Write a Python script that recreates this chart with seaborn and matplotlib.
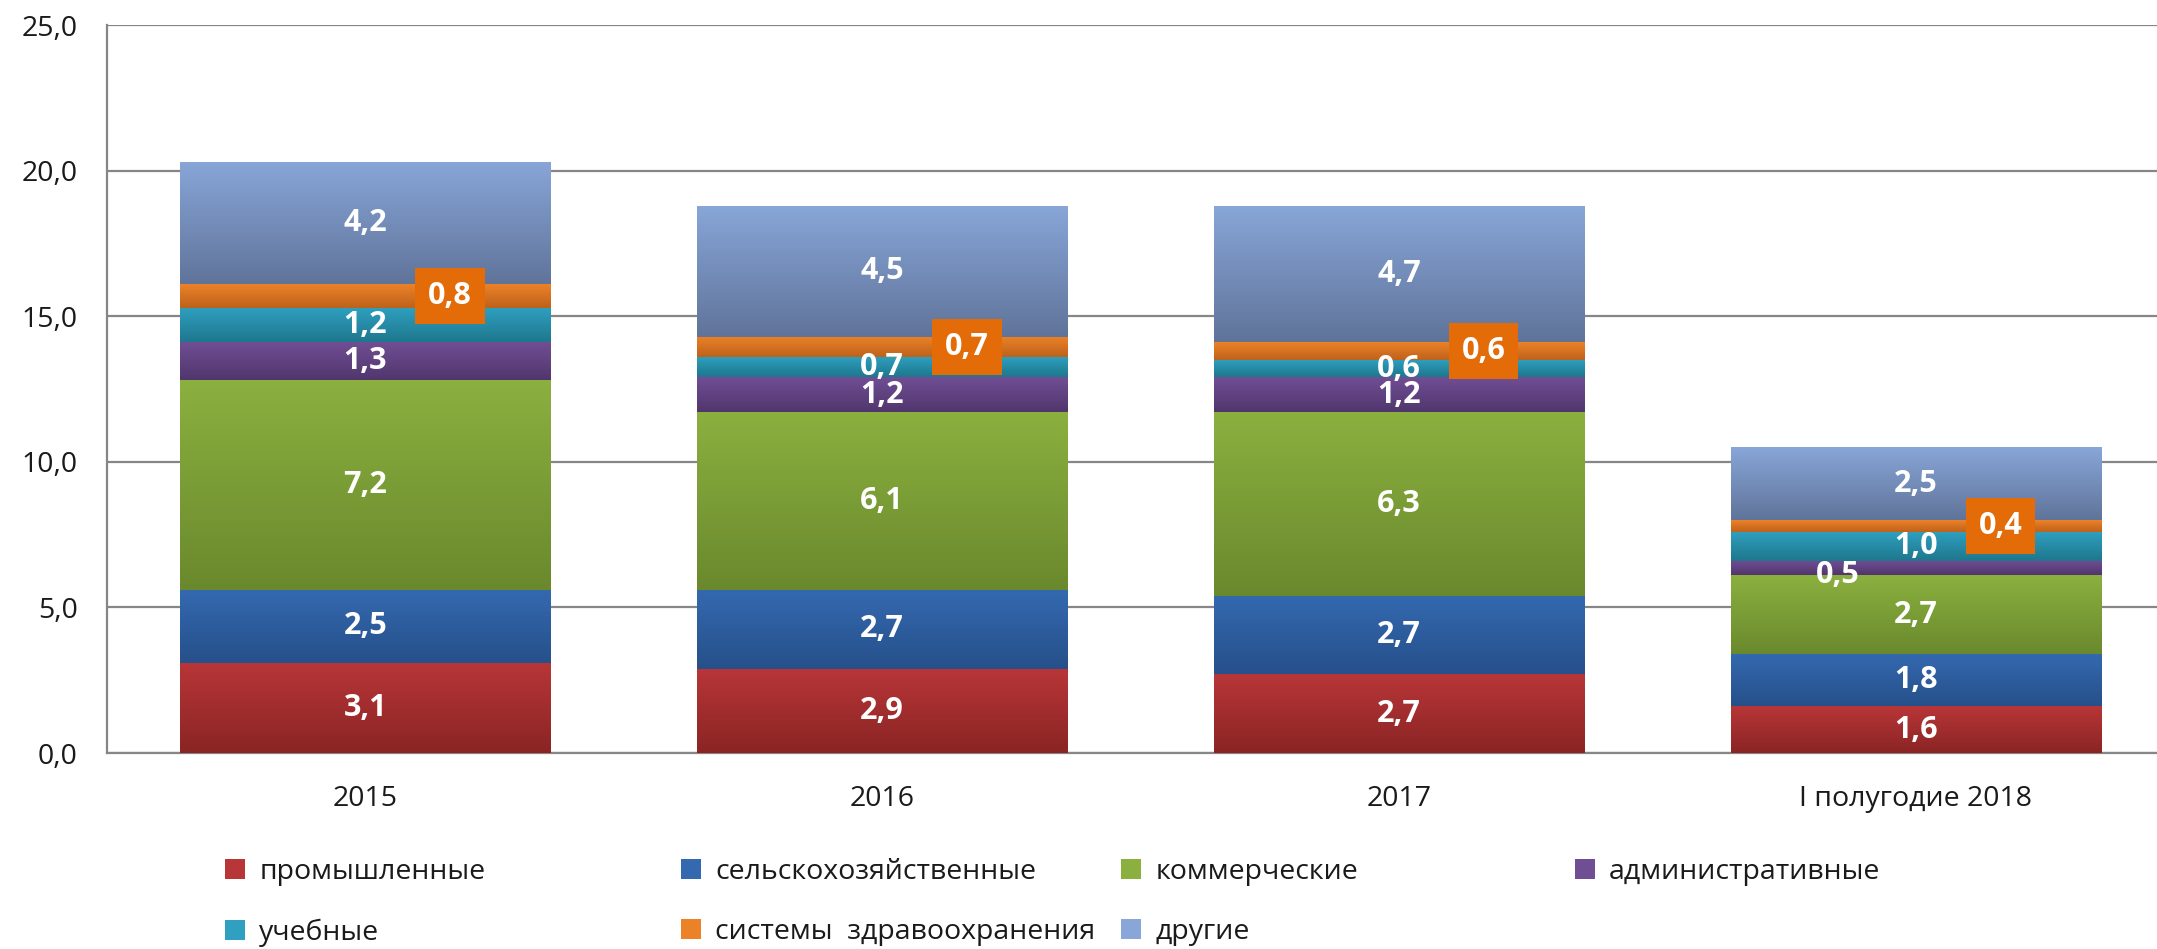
import numpy as np
import pandas as pd
import matplotlib
matplotlib.use('Agg')
import matplotlib.pyplot as plt
from matplotlib.colors import LinearSegmentedColormap
from matplotlib.patches import Patch
import seaborn as sns

# ── Data ───────────────────────────────────────────────────────────────────────
periods = ["2015", "2016", "2017", "I полугодие 2018"]
categories = ["промышленные", "сельскохозяйственные", "коммерческие", "административные",
              "учебные", "системы  здравоохранения", "другие"]
industrial = [3.1, 2.9, 2.7, 1.6]
agricultural = [2.5, 2.7, 2.7, 1.8]
commercial = [7.2, 6.1, 6.3, 2.7]
administrative = [1.3, 1.2, 1.2, 0.5]
educational = [1.2, 0.7, 0.6, 1.0]
healthcare = [0.8, 0.7, 0.6, 0.4]
other = [4.2, 4.5, 4.7, 2.5]
series = [industrial, agricultural, commercial, administrative, educational, healthcare, other]

# (top colour, bottom colour) of the vertical gradient for each series
shades = [("#B93638", "#8A2424"), ("#3469B0", "#26508A"), ("#8BB03F", "#6A892D"),
          ("#704E94", "#50366D"), ("#2FA0C0", "#1E778D"), ("#EC8228", "#BE621B"),
          ("#88A6D8", "#60749A")]
ORANGE_BOX = "#E36C09"

sns.set_theme(style="white")
plt.rcParams['font.family'] = ['Open Sans', 'DejaVu Sans']

fig = plt.figure(figsize=(21.57, 9.49), dpi=100)
ax = fig.add_axes([0.0496, 0.2065, 0.9583, 0.7671])

grad = np.linspace(0, 1, 256).reshape(-1, 1)
bottom = np.zeros(len(periods))
for vals, (top_c, bot_c) in zip(series, shades):
    n_before = len(ax.patches)
    sns.barplot(x=periods, y=vals, bottom=bottom.copy(), width=0.716, saturation=1,
                color=top_c, linewidth=0, ax=ax, zorder=3)
    cmap = LinearSegmentedColormap.from_list("g", [bot_c, top_c])
    for p in ax.patches[n_before:]:
        x0, y0, w, h = p.get_x(), p.get_y(), p.get_width(), p.get_height()
        im = ax.imshow(grad, cmap=cmap, origin='lower', aspect='auto',
                       extent=[x0, x0 + w, y0, y0 + h], zorder=3.5, interpolation='bilinear')
        im.set_clip_path(p)
    bottom += np.array(vals)

ax.set_xlim(-0.5, 3.5)
ax.set_ylim(0, 25)

# ── Value labels ───────────────────────────────────────────────────────────────
def fmt(v):
    return f"{v:.1f}".replace('.', ',')

base = np.zeros(len(periods))
for k, vals in enumerate(series):
    for i, v in enumerate(vals):
        yc = base[i] + v / 2
        if k == 5:
            ax.text(i + 0.164, yc, fmt(v), ha='center', va='center', color='white',
                    fontsize=22, fontweight='bold', zorder=6,
                    bbox=dict(boxstyle='square,pad=0.42', fc=ORANGE_BOX, ec='none'))
        elif k == 3 and v < 0.8:
            ax.text(i - 0.15, yc - 0.25, fmt(v), ha='center', va='center', color='white',
                    fontsize=22, fontweight='bold', zorder=6)
        else:
            ax.text(i, yc, fmt(v), ha='center', va='center', color='white',
                    fontsize=22, fontweight='bold', zorder=6)
    base += np.array(vals)

# ── Axes styling ───────────────────────────────────────────────────────────────
ax.set_yticks(np.arange(0, 26, 5))
ax.set_yticklabels([fmt(t) for t in np.arange(0, 26, 5)])
ax.yaxis.grid(True, color='#868686', linewidth=1.6, zorder=0)
ax.set_axisbelow(True)
ax.tick_params(axis='y', length=0, pad=21, labelsize=20.5, labelcolor='#1a1a1a')
ax.tick_params(axis='x', length=0, pad=23, labelsize=20.5, labelcolor='#1a1a1a')
ax.set_xlabel("")
ax.set_ylabel("")
for side in ['top', 'right']:
    ax.spines[side].set_visible(False)
for side in ['left', 'bottom']:
    ax.spines[side].set_color('#868686')
    ax.spines[side].set_linewidth(1.6)

# ── Legend: one small legend per column, Excel-like grid ───────────────────────
handles = [Patch(facecolor=tc, edgecolor='none') for tc, _ in shades]
columns = [[0, 4], [1, 5], [2, 6], [3]]
col_x = [0.1043, 0.3157, 0.5197, 0.7302]
for cx, idx in zip(col_x, columns):
    fig.legend([handles[j] for j in idx], [categories[j] for j in idx],
               loc='upper left', bbox_to_anchor=(cx, 0.0955), frameon=False,
               fontsize=20.5, handlelength=0.7, handleheight=0.7, handletextpad=0.5,
               labelspacing=1.12, borderpad=0, borderaxespad=0, labelcolor='#1a1a1a')

plt.savefig("out.png", dpi=100)
plt.close()
